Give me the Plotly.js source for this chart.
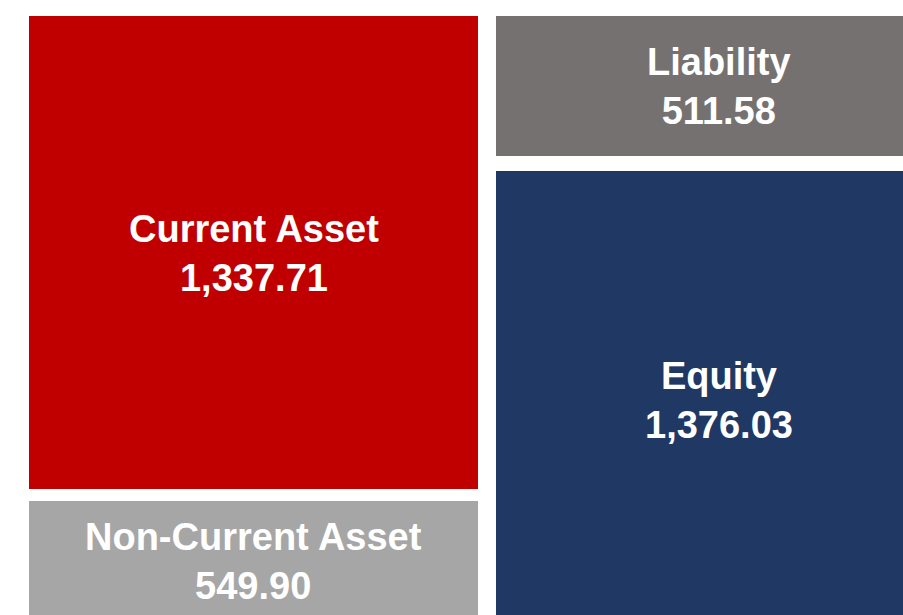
<!DOCTYPE html>
<html>
<head>
<meta charset="utf-8">
<script src="https://cdn.plot.ly/plotly-3.0.1.min.js"></script>
<style>
html,body{margin:0;padding:0;overflow:hidden;background:#fff;}
#chart{width:903px;height:615px;}
</style>
</head>
<body>
<div id="chart"></div>
<script>
// Data
const columns = ["Assets", "Liabilities & Equity"];
const topLabels = ["Current Asset", "Liability"];
const topValues = [1337.71, 511.58];
const bottomLabels = ["Non-Current Asset", "Equity"];
const bottomValues = [549.90, 1376.03];

// Style
const topColors = ["#C00000", "#767171"];
const bottomColors = ["#A6A6A6", "#203864"];
const gapWidths = [12, 15];
const yRange = [1636.8, 144.0];   // visible window (reversed: top of page = smaller)
const xRange = [-0.5446, 1.3953];
const topShift = [2, 3.5];
const bottomShift = [-7, -11];
const labelFont = {family: "Liberation Sans Narrow, Arial Narrow, Liberation Sans, Arial, sans-serif", size: 38, color: "#ffffff"};

const fmt = v => v.toLocaleString("en-US", {minimumFractionDigits: 2, maximumFractionDigits: 2});

const traceTop = {
  type: "bar", x: columns, y: topValues, width: 0.9903,
  marker: {color: topColors, line: {color: "#ffffff", width: gapWidths}},
  hoverinfo: "skip", showlegend: false
};
const traceBottom = {
  type: "bar", x: columns, y: bottomValues, width: 0.9903,
  marker: {color: bottomColors, line: {color: "#ffffff", width: gapWidths}},
  hoverinfo: "skip", showlegend: false
};

// Labels centred in the visible part of each block
const lo = Math.min(yRange[0], yRange[1]), hi = Math.max(yRange[0], yRange[1]);
function visMid(a, b) {
  const s = Math.max(a, lo), e = Math.min(b, hi);
  return (s + e) / 2;
}
const annotations = [];
columns.forEach((c, i) => {
  annotations.push({
    x: i, y: visMid(0, topValues[i]), xref: "x", yref: "y", yshift: topShift[i],
    text: "<b>" + topLabels[i] + "</b><br><b>" + fmt(topValues[i]) + "</b>",
    showarrow: false, font: labelFont
  });
  annotations.push({
    x: i, y: visMid(topValues[i], topValues[i] + bottomValues[i]), xref: "x", yref: "y", yshift: bottomShift[i],
    text: "<b>" + bottomLabels[i] + "</b><br><b>" + fmt(bottomValues[i]) + "</b>",
    showarrow: false, font: labelFont
  });
});

const layout = {
  width: 903, height: 615,
  margin: {l: 0, r: 0, t: 16, b: 0, pad: 0},
  paper_bgcolor: "#ffffff", plot_bgcolor: "#ffffff",
  barmode: "stack",
  xaxis: {type: "category", range: xRange, visible: false, fixedrange: true},
  yaxis: {range: yRange, visible: false, fixedrange: true},
  annotations: annotations,
  showlegend: false,
  hovermode: false
};

Plotly.newPlot("chart", [traceTop, traceBottom], layout, {displayModeBar: false, staticPlot: true});
</script>
</body>
</html>
